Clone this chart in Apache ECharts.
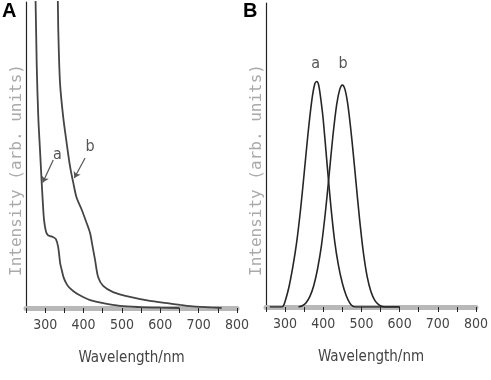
<!DOCTYPE html>
<html>
<head>
<meta charset="utf-8">
<script src="https://cdn.jsdelivr.net/npm/echarts@6/dist/echarts.min.js"></script>
<style>
html, body { margin: 0; padding: 0; background: #fff; }
#main { width: 491px; height: 380px; }
</style>
</head>
<body>
<div id="main"></div>
<script>
// wavelength (nm), intensity (arb. units, 1 = top of the axis)
var absA = [[272, 1.1], [275, 1.0], [278, 0.79], [282, 0.625], [286.5, 0.516], [291, 0.408], [293.5, 0.353],
    [297, 0.288], [302, 0.25], [307, 0.238], [313, 0.235], [320, 0.232], [328, 0.225], [334, 0.198],
    [339, 0.147], [343, 0.125], [348, 0.1], [356, 0.078], [365, 0.064], [382, 0.047], [400, 0.035],
    [417, 0.026], [451, 0.016], [495, 0.007], [547, 0.003], [600, 0.001], [650, 0]];
var absB = [[331, 1.1], [333, 1.0], [334.3, 0.9], [338.7, 0.735], [347, 0.624], [356, 0.539], [365, 0.461],
    [373.4, 0.408], [382, 0.36], [395, 0.322], [408, 0.278], [417, 0.245], [422, 0.212], [430, 0.157],
    [438, 0.101], [451, 0.072], [477, 0.052], [521, 0.036], [573, 0.023], [618, 0.016], [652, 0.01],
    [678, 0.006], [730, 0.002], [760, 0]];
var emA = [[260, 0], [290, 0], [295, 0.003], [300, 0.018], [310, 0.065], [320, 0.13], [330, 0.21], [340, 0.315],
    [350, 0.44], [360, 0.57], [370, 0.68], [378, 0.735], [383, 0.742], [388, 0.73], [395, 0.67],
    [400, 0.615], [410, 0.47], [420, 0.33], [430, 0.215], [440, 0.135], [450, 0.078], [460, 0.038],
    [470, 0.012], [478, 0.002], [485, 0], [600, 0]];
var emB = [[335, 0], [345, 0.004], [355, 0.014], [365, 0.035], [375, 0.07], [385, 0.125], [395, 0.2],
    [405, 0.305], [415, 0.43], [425, 0.56], [435, 0.665], [443, 0.715], [450, 0.73], [457, 0.715],
    [465, 0.66], [475, 0.55], [485, 0.42], [495, 0.29], [505, 0.18], [515, 0.1], [525, 0.05],
    [535, 0.022], [545, 0.008], [555, 0.002], [565, 0], [600, 0]];
var tickLabels = [300, 400, 500, 600, 700, 800];
var panelNames = ['A', 'B'];
var curveNames = ['a', 'b'];
// annotations in data coordinates
var arrowA = [[321, 0.484], [293.6, 0.41]];
var arrowB = [[404, 0.49], [376, 0.425]];
var labelPosA = [[332, 0.5], [417, 0.526]];
var labelPosB = [[380, 0.8], [452, 0.8]];

var chart = echarts.init(document.getElementById('main'));

var narrow = "'DejaVu Sans Condensed', 'Liberation Sans Narrow', sans-serif";

function xAxisFor(idx) {
    return {
        gridIndex: idx,
        type: 'value',
        min: 250,
        max: 800,
        interval: 50,
        name: 'Wavelength/nm',
        nameLocation: 'middle',
        nameGap: 43,
        nameTextStyle: { color: '#444', fontSize: 15, fontFamily: narrow },
        axisLine: { lineStyle: { color: '#b8b8b8', width: 5 } },
        axisTick: { length: 5, lineStyle: { color: '#222', width: 1 } },
        axisLabel: {
            margin: 10,
            color: '#444',
            fontSize: 14,
            fontFamily: narrow,
            formatter: function(v) {
                return tickLabels.indexOf(v) >= 0 ? String(v) : '';
            }
        },
        splitLine: { show: false }
    };
}

function yAxisFor(idx) {
    return {
        gridIndex: idx,
        type: 'value',
        min: 0,
        max: 1,
        name: 'Intensity (arb. units)',
        nameLocation: 'middle',
        nameGap: 1,
        nameTextStyle: { color: '#aaa', fontSize: 16, fontFamily: "'DejaVu Sans Mono', monospace", padding: [0, 30, 0, 0] },
        axisLine: { onZero: false, lineStyle: { color: '#222', width: 1.2 } },
        axisTick: { show: false },
        axisLabel: { show: false },
        splitLine: { show: false }
    };
}

function textMark(pos, txt) {
    return {
        coord: pos,
        symbol: 'circle',
        symbolSize: 0,
        label: { show: true, position: 'inside', formatter: txt, color: '#555', fontSize: 16, fontFamily: narrow }
    };
}

function arrow(pts) {
    return [{ coord: pts[0] }, { coord: pts[1] }];
}

function line(name, data, gi, width, color, extra) {
    var s = {
        name: name,
        type: 'line',
        xAxisIndex: gi,
        yAxisIndex: gi,
        data: data,
        smooth: 0.3,
        showSymbol: false,
        clip: true,
        lineStyle: { color: color, width: width },
        silent: true
    };
    for (var k in extra) s[k] = extra[k];
    return s;
}

var arrowStyle = {
    silent: true,
    symbol: ['none', 'arrow'],
    symbolSize: 6,
    label: { show: false },
    lineStyle: { color: '#555', width: 1.2, type: 'solid' }
};

var option = {
    animation: false,
    backgroundColor: '#fff',
    title: [
        { text: panelNames[0], left: 2, top: 1, padding: 0, textStyle: { fontSize: 20, fontWeight: 'bold', color: '#000', fontFamily: 'Liberation Sans' } },
        { text: panelNames[1], left: 243, top: 1, padding: 0, textStyle: { fontSize: 20, fontWeight: 'bold', color: '#000', fontFamily: 'Liberation Sans' } }
    ],
    grid: [
        { left: 26, top: 2, width: 211, height: 306 },
        { left: 266, top: 3, width: 212, height: 304 }
    ],
    xAxis: [xAxisFor(0), xAxisFor(1)],
    yAxis: [yAxisFor(0), yAxisFor(1)],
    series: [
        line(curveNames[0], absA, 0, 1.8, '#454545', {
            markPoint: { silent: true, data: [textMark(labelPosA[0], curveNames[0])] },
            markLine: Object.assign({ data: [arrow(arrowA)] }, arrowStyle)
        }),
        line(curveNames[1], absB, 0, 1.8, '#454545', {
            markPoint: { silent: true, data: [textMark(labelPosA[1], curveNames[1])] },
            markLine: Object.assign({ data: [arrow(arrowB)] }, arrowStyle)
        }),
        line(curveNames[0], emA, 1, 1.6, '#262626', {
            markPoint: { silent: true, data: [textMark(labelPosB[0], curveNames[0])] }
        }),
        line(curveNames[1], emB, 1, 1.6, '#262626', {
            markPoint: { silent: true, data: [textMark(labelPosB[1], curveNames[1])] }
        })
    ]
};
chart.setOption(option);
</script>
</body>
</html>
